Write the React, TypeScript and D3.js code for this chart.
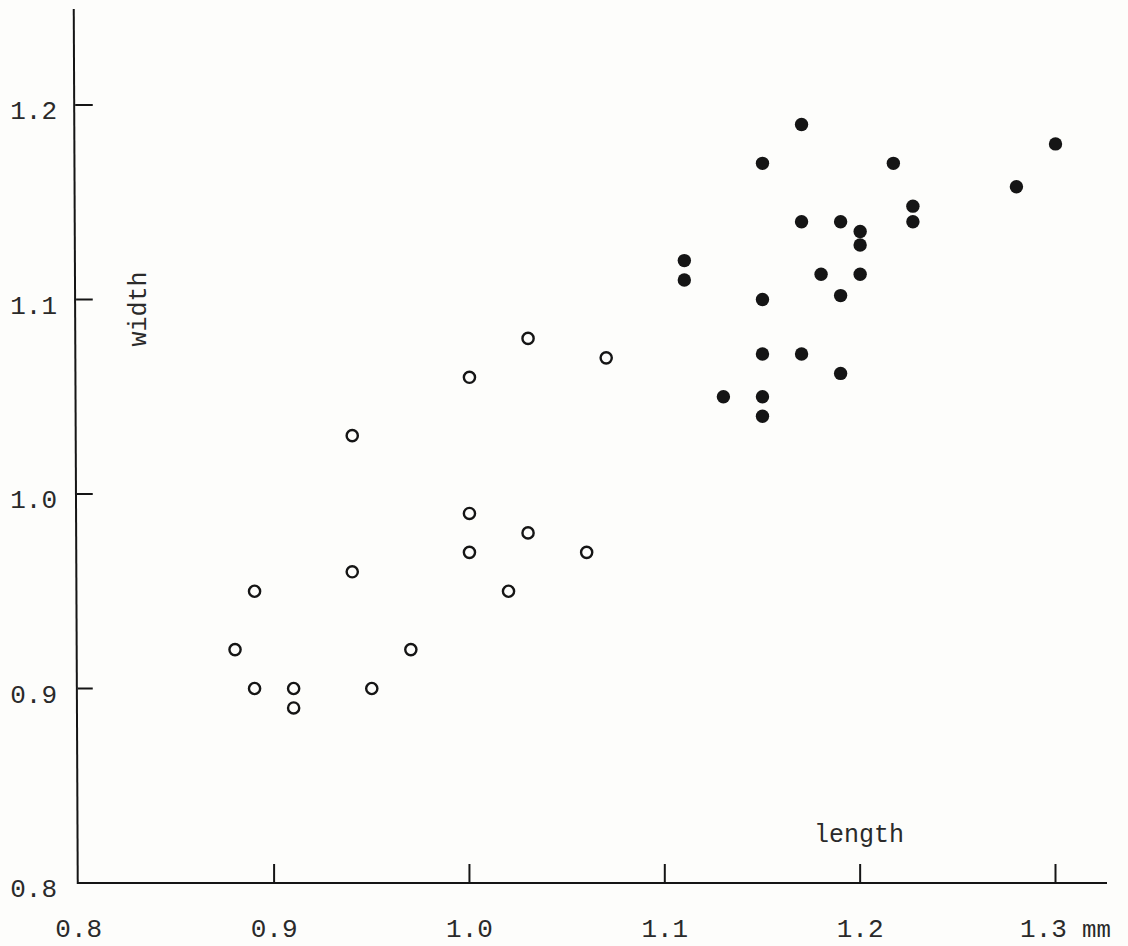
import React, { useEffect, useRef } from 'react';
import * as d3 from 'd3';

// open circles
const openLength = [0.88, 0.89, 0.89, 0.91, 0.91, 0.94, 0.94, 0.95, 0.97, 1.0, 1.0, 1.0, 1.02, 1.03, 1.03, 1.06, 1.07];
const openWidth = [0.92, 0.95, 0.9, 0.9, 0.89, 1.03, 0.96, 0.9, 0.92, 1.06, 0.99, 0.97, 0.95, 1.08, 0.98, 0.97, 1.07];

// filled dots
const filledLength = [1.11, 1.11, 1.13, 1.15, 1.15, 1.15, 1.15, 1.15, 1.17, 1.17, 1.17, 1.18, 1.19, 1.19, 1.19, 1.2, 1.2, 1.2, 1.217, 1.227, 1.227, 1.28, 1.3];
const filledWidth = [1.12, 1.11, 1.05, 1.17, 1.1, 1.072, 1.05, 1.04, 1.19, 1.14, 1.072, 1.113, 1.14, 1.102, 1.062, 1.135, 1.128, 1.113, 1.17, 1.148, 1.14, 1.158, 1.18];

const xTicks = [0.8, 0.9, 1.0, 1.1, 1.2, 1.3];
const yTicks = [0.8, 0.9, 1.0, 1.1, 1.2];

const FONT = '"Liberation Mono", "DejaVu Sans Mono", monospace';
const INK = '#151515';
const TEXT = '#2a2a2a';

const App = () => {
  const svgRef = useRef<SVGSVGElement>(null);

  useEffect(() => {
    document.body.style.margin = '0';
    const svg = d3.select(svgRef.current);
    svg.selectAll('*').remove();

    const width = 1128;
    const height = 946;

    const xScale = d3.scaleLinear().domain([0.8, 1.3]).range([78.75, 1055.5]);
    const yScale = d3.scaleLinear().domain([0.8, 1.2]).range([883, 105]);

    svg.attr('width', width).attr('height', height);

    svg.append('rect')
      .attr('width', width)
      .attr('height', height)
      .attr('fill', '#fdfdfb');

    const x0 = xScale(0.8);
    const y0 = yScale(0.8);

    // axes lines (y axis leans a little, like the scan)
    svg.append('line')
      .attr('x1', x0 - 5).attr('y1', 9)
      .attr('x2', x0 - 1).attr('y2', y0 + 1)
      .attr('stroke', INK).attr('stroke-width', 2);

    svg.append('line')
      .attr('x1', x0 - 1).attr('y1', y0)
      .attr('x2', 1107).attr('y2', y0)
      .attr('stroke', INK).attr('stroke-width', 2);

    // x ticks + labels
    svg.selectAll('.xtick')
      .data(xTicks.slice(1))
      .enter()
      .append('line')
      .attr('x1', (d) => xScale(d)).attr('x2', (d) => xScale(d))
      .attr('y1', y0).attr('y2', y0 - 19)
      .attr('stroke', INK).attr('stroke-width', 2);

    svg.selectAll('.xlab')
      .data(xTicks)
      .enter()
      .append('text')
      .attr('x', (d) => xScale(d) + (d === 1.3 ? -12 : 0))
      .attr('y', 937)
      .attr('text-anchor', 'middle')
      .attr('font-family', FONT)
      .attr('font-size', 26)
      .attr('fill', TEXT)
      .text((d) => d3.format('.1f')(d));

    svg.append('text')
      .attr('x', 1082)
      .attr('y', 937)
      .attr('font-family', FONT)
      .attr('font-size', 24)
      .attr('fill', TEXT)
      .text('mm');

    // y ticks + labels
    svg.selectAll('.ytick')
      .data(yTicks.slice(1))
      .enter()
      .append('line')
      .attr('x1', (d) => x0 - 4 + 4 * (yScale(d) - 9) / (y0 - 9))
      .attr('x2', x0 + 14)
      .attr('y1', (d) => yScale(d)).attr('y2', (d) => yScale(d))
      .attr('stroke', INK).attr('stroke-width', 2);

    svg.selectAll('.ylab')
      .data(yTicks)
      .enter()
      .append('text')
      .attr('x', 57)
      .attr('y', (d) => yScale(d) + 14)
      .attr('text-anchor', 'end')
      .attr('font-family', FONT)
      .attr('font-size', 26)
      .attr('fill', TEXT)
      .text((d) => d3.format('.1f')(d));

    // axis titles
    svg.append('text')
      .attr('transform', 'translate(146,309) rotate(-90)')
      .attr('text-anchor', 'middle')
      .attr('font-family', FONT)
      .attr('font-size', 25)
      .attr('fill', TEXT)
      .text('width');

    svg.append('text')
      .attr('x', 814)
      .attr('y', 842)
      .attr('font-family', FONT)
      .attr('font-size', 25)
      .attr('fill', TEXT)
      .text('length');

    // open circles
    svg.selectAll('.open')
      .data(openLength.map((x, i) => ({ x, y: openWidth[i] })))
      .enter()
      .append('circle')
      .attr('cx', (d) => xScale(d.x))
      .attr('cy', (d) => yScale(d.y))
      .attr('r', 5.6)
      .attr('fill', 'none')
      .attr('stroke', INK)
      .attr('stroke-width', 2.4);

    // filled dots
    svg.selectAll('.filled')
      .data(filledLength.map((x, i) => ({ x, y: filledWidth[i] })))
      .enter()
      .append('circle')
      .attr('cx', (d) => xScale(d.x))
      .attr('cy', (d) => yScale(d.y))
      .attr('r', 6.7)
      .attr('fill', INK);
  }, []);

  return <svg ref={svgRef} style={{ display: 'block' }}></svg>;
};

export default App;
